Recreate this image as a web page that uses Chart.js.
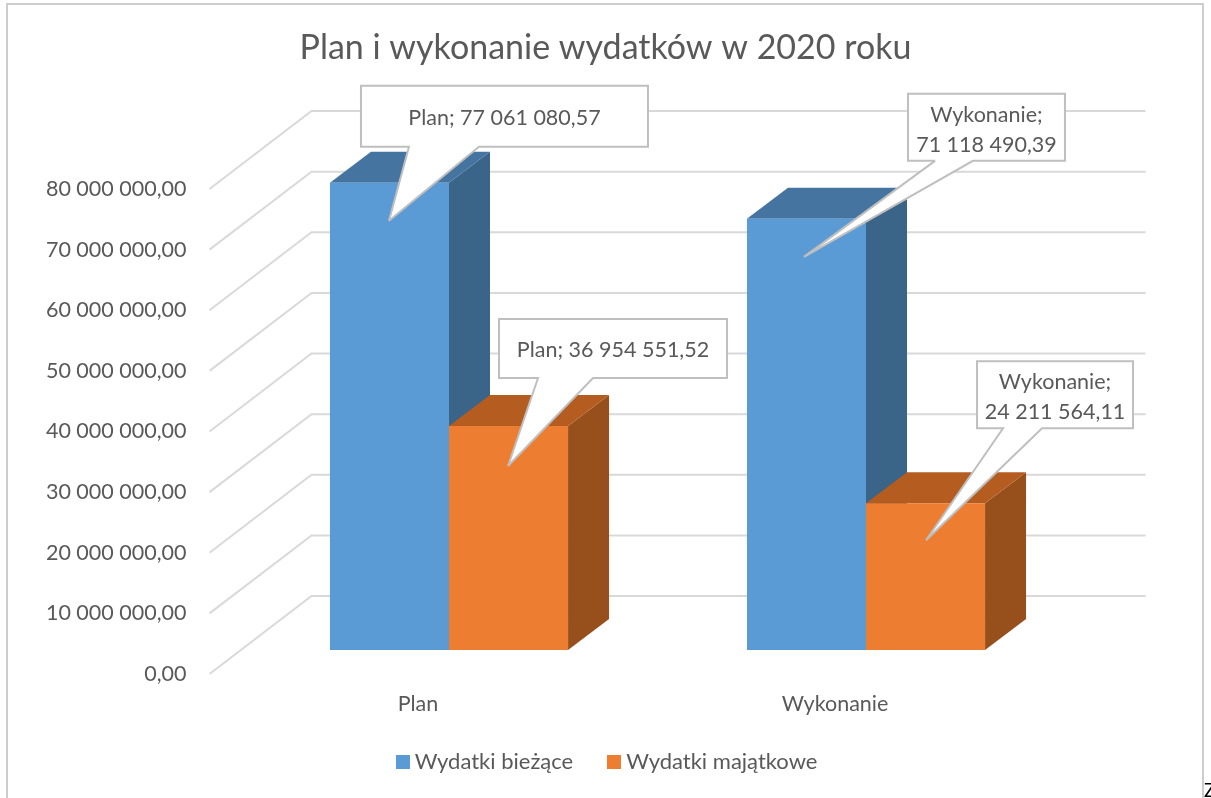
<!DOCTYPE html>
<html lang="pl">
<head>
<meta charset="utf-8">
<title>Plan i wykonanie wydatków w 2020 roku</title>
<script src="https://cdn.jsdelivr.net/npm/chart.js@4/dist/chart.umd.min.js"></script>
<style>
    html, body { margin: 0; padding: 0; background: #fff; overflow: hidden; }
    #wrap { position: relative; width: 1211px; height: 798px; overflow: hidden; }
    #frame { position: absolute; left: 6px; top: 3px; width: 1194px; height: 800px; border: 2px solid #cdcdcd; }
    #cut { position: absolute; left: 1204px; top: 778px; font: 19px Lato, sans-serif; color: #000; }
</style>
</head>
<body>
<div id="wrap">
    <div id="frame"></div>
    <canvas id="planChart"></canvas>
    <span id="cut">Z</span>
</div>
<script>
const chartTitle = 'Plan i wykonanie wydatków w 2020 roku';
const categories = ['Plan', 'Wykonanie'];
const currentSpending = [77061080.57, 71118490.39];
const assetSpending = [36954551.52, 24211564.11];
const seriesNames = ['Wydatki bieżące', 'Wydatki majątkowe'];

const FONT = 'Lato, Carlito, sans-serif';
const TEXT = '#595959';
const DEPTH_X = 41, DEPTH_Y = 31;     // bar depth
const WALL_X = 71, WALL_Y = 54;       // bar plane -> back wall
const FLOOR_X = 31, FLOOR_Y = 24;     // bar plane -> front edge
const faces = [
    { top: '#4674a1', side: '#3a6488' },
    { top: '#b55d20', side: '#97501c' }
];

// series, category, box offset from bar centre/top, box size, tail base inside box, tip offset
const callouts = [
    { s: 0, i: 0, dx: -28.5, dy: -97, w: 287, h: 61, baseL: 48, baseR: 118, tipX: -0.5, tipY: 38 },
    { s: 1, i: 0, dx: -9.5, dy: -107, w: 228, h: 59, baseL: 39, baseR: 94, tipX: -0.5, tipY: 40 },
    { s: 0, i: 1, dx: 101.5, dy: -125, w: 157, h: 67, baseL: 27, baseR: 65, tipX: -2.5, tipY: 38, wrap: true },
    { s: 1, i: 1, dx: 51.5, dy: -142, w: 156, h: 67, baseL: 26, baseR: 65, tipX: 0.5, tipY: 37, wrap: true }
];

function formatPl(v, digits) {
    const parts = v.toFixed(digits).split('.');
    parts[0] = parts[0].replace(/\B(?=(\d{3})+(?!\d))/g, ' ');
    return parts.join(',');
}

function poly(ctx, pts, color) {
    ctx.fillStyle = color;
    ctx.beginPath();
    pts.forEach((p, n) => n ? ctx.lineTo(p[0], p[1]) : ctx.moveTo(p[0], p[1]));
    ctx.closePath();
    ctx.fill();
}

// legend swatch as a small canvas so the gap to the text can stay tight
function swatch(color) {
    const c = document.createElement('canvas');
    c.width = 14;
    c.height = 14;
    const g = c.getContext('2d');
    g.fillStyle = color;
    g.fillRect(0, 0, 14, 14);
    return c;
}

// gridlines on the wall and floor edge, then top and side faces of the bars
const scene3d = {
    id: 'scene3d',
    afterLayout(chart) {
        // nudge, legend sits slightly right of centre and above its layout slot
        chart.legend.left += 8;
        chart.legend.top -= 14;
    },
    beforeDatasetsDraw(chart) {
        const { ctx, chartArea, scales } = chart;
        const y = scales.y;
        ctx.save();
        ctx.strokeStyle = '#d9d9d9';
        ctx.lineWidth = 2;
        y.ticks.forEach((t, n) => {
            const py = y.getPixelForTick(n);
            ctx.beginPath();
            ctx.moveTo(chartArea.left - FLOOR_X, py + FLOOR_Y);
            ctx.lineTo(chartArea.left + WALL_X, py - WALL_Y);
            ctx.lineTo(chartArea.right + WALL_X, py - WALL_Y);
            ctx.stroke();
        });
        chart.data.datasets.forEach((ds, s) => {
            chart.getDatasetMeta(s).data.forEach(bar => {
                const l = bar.x - bar.width / 2, r = bar.x + bar.width / 2;
                poly(ctx, [[r, bar.y], [r + DEPTH_X, bar.y - DEPTH_Y], [r + DEPTH_X, bar.base - DEPTH_Y], [r, bar.base]], faces[s].side);
                poly(ctx, [[l, bar.y], [l + DEPTH_X, bar.y - DEPTH_Y], [r + DEPTH_X, bar.y - DEPTH_Y], [r, bar.y]], faces[s].top);
            });
        });
        ctx.restore();
    }
};

const calloutLabels = {
    id: 'calloutLabels',
    afterDatasetsDraw(chart) {
        const { ctx } = chart;
        ctx.save();
        callouts.forEach(c => {
            const bar = chart.getDatasetMeta(c.s).data[c.i];
            const value = chart.data.datasets[c.s].data[c.i];
            const x = bar.x + c.dx, y = bar.y + c.dy;
            const bottom = y + c.h;
            ctx.beginPath();
            ctx.moveTo(x, y);
            ctx.lineTo(x + c.w, y);
            ctx.lineTo(x + c.w, bottom);
            ctx.lineTo(x + c.baseR, bottom);
            ctx.lineTo(bar.x + c.tipX, bar.y + c.tipY);
            ctx.lineTo(x + c.baseL, bottom);
            ctx.lineTo(x, bottom);
            ctx.closePath();
            ctx.fillStyle = '#ffffff';
            ctx.strokeStyle = '#bfbfbf';
            ctx.lineWidth = 2;
            ctx.lineJoin = 'miter';
            ctx.miterLimit = 3;
            ctx.fill();
            ctx.stroke();

            ctx.fillStyle = TEXT;
            ctx.font = '21.5px ' + FONT;
            ctx.textAlign = 'center';
            ctx.textBaseline = 'middle';
            const name = categories[c.i] + ';';
            const num = formatPl(value, 2);
            const cx = x + c.w / 2, cy = y + c.h / 2;
            if (c.wrap) {
                ctx.fillText(name, cx, cy - 12.5);
                ctx.fillText(num, cx, cy + 17.5);
            } else {
                ctx.fillText(name + ' ' + num, cx, cy + 2);
            }
        });
        ctx.restore();
    }
};

new Chart(document.getElementById('planChart').getContext('2d'), {
    type: 'bar',
    data: {
        labels: categories,
        datasets: [
            { label: seriesNames[0], data: currentSpending, backgroundColor: '#5b9bd5', borderWidth: 0, pointStyle: swatch('#5b9bd5') },
            { label: seriesNames[1], data: assetSpending, backgroundColor: '#ed7d31', borderWidth: 0, pointStyle: swatch('#ed7d31') }
        ]
    },
    options: {
        responsive: true, maintainAspectRatio: false, animation: false,
        layout: { autoPadding: false, padding: { bottom: 1 } },
        categoryPercentage: 0.571, barPercentage: 1,
        scales: {
            x: {
                grid: { display: false, drawTicks: false },
                border: { display: false },
                ticks: { color: TEXT, font: { family: FONT, size: 21.5 }, labelOffset: -31, padding: 41, maxRotation: 0 },
                afterFit(s) { s.height = 75; }
            },
            y: {
                min: 0, max: 80000000,
                grid: { display: false, drawTicks: false },
                border: { display: false },
                ticks: {
                    stepSize: 10000000, color: TEXT, font: { family: FONT, size: 21.5 },
                    labelOffset: FLOOR_Y, padding: 54,
                    callback: v => formatPl(v, 2)
                },
                afterFit(s) { s.width = 240.5; }
            },
            spacer: {
                axis: 'y', position: 'right',
                grid: { display: false, drawTicks: false },
                border: { display: false },
                ticks: { display: false },
                afterFit(s) { s.width = 136.5; }
            }
        },
        plugins: {
            title: {
                display: true, text: chartTitle, color: TEXT,
                font: { family: FONT, size: 34, weight: 'normal' },
                padding: { top: 28, bottom: 96.2 }
            },
            legend: {
                position: 'bottom',
                labels: { color: TEXT, font: { family: FONT, size: 22 }, usePointStyle: true, boxWidth: 2, boxHeight: 14, padding: 40 }
            },
            tooltip: { enabled: false }
        }
    },
    plugins: [scene3d, calloutLabels]
});
</script>
</body>
</html>
